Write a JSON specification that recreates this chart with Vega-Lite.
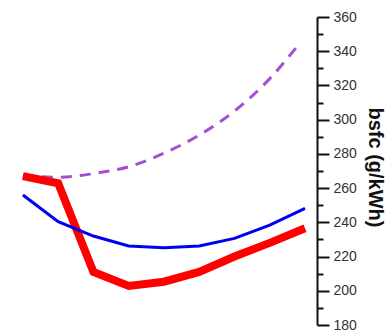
{
  "$schema": "https://vega.github.io/schema/vega-lite/v6.json",
  "width": 317,
  "height": 308,
  "autosize": {"type": "none"},
  "padding": {"left": 0, "top": 17, "right": 71, "bottom": 6},
  "config": {
    "view": {"stroke": null},
    "font": "Liberation Sans"
  },
  "datasets": {
    "bsfc": [
      {"point": 1, "series": "fit", "bsfc": 267.5},
      {"point": 2, "series": "fit", "bsfc": 266.3},
      {"point": 3, "series": "fit", "bsfc": 268.5},
      {"point": 4, "series": "fit", "bsfc": 272.5},
      {"point": 5, "series": "fit", "bsfc": 280.4},
      {"point": 6, "series": "fit", "bsfc": 291},
      {"point": 7, "series": "fit", "bsfc": 305},
      {"point": 8, "series": "fit", "bsfc": 324},
      {"point": 8.77, "series": "fit", "bsfc": 342.6},

      {"point": 1, "series": "A", "bsfc": 267},
      {"point": 2, "series": "A", "bsfc": 262.8},
      {"point": 3, "series": "A", "bsfc": 211},
      {"point": 4, "series": "A", "bsfc": 202.8},
      {"point": 5, "series": "A", "bsfc": 205.3},
      {"point": 6, "series": "A", "bsfc": 211},
      {"point": 7, "series": "A", "bsfc": 220},
      {"point": 8, "series": "A", "bsfc": 228},
      {"point": 9, "series": "A", "bsfc": 236.5},

      {"point": 1, "series": "B", "bsfc": 256},
      {"point": 2, "series": "B", "bsfc": 240.4},
      {"point": 3, "series": "B", "bsfc": 232},
      {"point": 4, "series": "B", "bsfc": 226.2},
      {"point": 5, "series": "B", "bsfc": 225.2},
      {"point": 6, "series": "B", "bsfc": 226.2},
      {"point": 7, "series": "B", "bsfc": 230.6},
      {"point": 8, "series": "B", "bsfc": 238.4},
      {"point": 9, "series": "B", "bsfc": 248.2}
    ]
  },
  "data": {"name": "bsfc"},
  "encoding": {
    "x": {
      "field": "point",
      "type": "quantitative",
      "scale": {"domain": [0.35, 9.34], "nice": false, "zero": false},
      "axis": null
    },
    "y": {
      "field": "bsfc",
      "type": "quantitative",
      "title": "bsfc (g/kWh)",
      "scale": {"domain": [180, 360], "nice": false, "zero": false},
      "axis": {
        "orient": "right",
        "values": [180, 190, 200, 210, 220, 230, 240, 250, 260, 270, 280, 290, 300, 310, 320, 330, 340, 350, 360],
        "labelExpr": "datum.value % 20 === 0 ? datum.label : ''",
        "labelOverlap": false,
        "grid": false,
        "domainColor": "#111",
        "domainWidth": 2,
        "tickColor": "#111",
        "tickWidth": 2,
        "tickSize": {"condition": {"test": "datum.value % 20 === 0", "value": 12}, "value": 6},
        "labelFontSize": 14,
        "labelColor": "#333",
        "labelPadding": 4,
        "labelFlush": false,
        "titleFontSize": 20,
        "titleFontWeight": "bold",
        "titleColor": "#111",
        "titlePadding": 8,
        "titleY": 150
      }
    }
  },
  "layer": [
    {
      "transform": [{"filter": "datum.series === 'fit'"}],
      "mark": {
        "type": "line",
        "interpolate": "monotone",
        "color": "#a44fd2",
        "strokeWidth": 3,
        "strokeDash": [11, 8]
      },
      "encoding": {}
    },
    {
      "transform": [{"filter": "datum.series === 'A'"}],
      "mark": {"type": "line", "color": "#ff0000", "strokeWidth": 8},
      "encoding": {}
    },
    {
      "transform": [{"filter": "datum.series === 'B'"}],
      "mark": {"type": "line", "color": "#0000f0", "strokeWidth": 3},
      "encoding": {}
    }
  ]
}
